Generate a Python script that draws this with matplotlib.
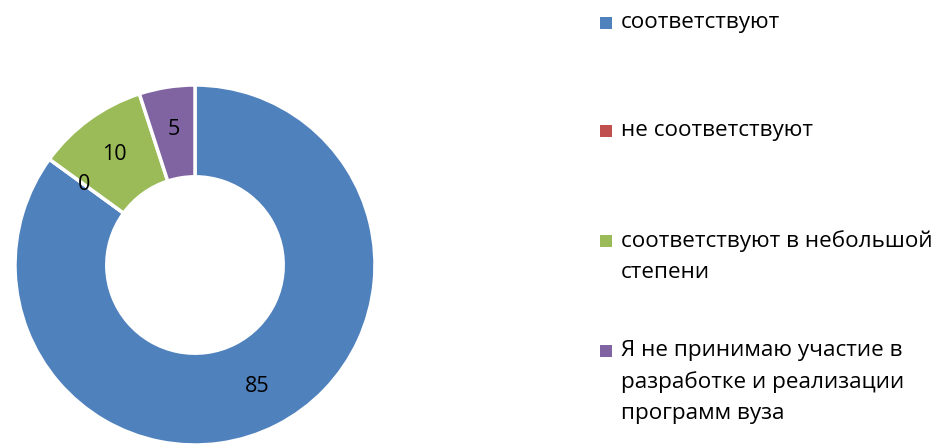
import matplotlib
matplotlib.use("Agg")
import matplotlib.pyplot as plt
from matplotlib.patches import Rectangle

categories = ["соответствуют", "не соответствуют",
              "соответствуют в небольшой\nстепени",
              "Я не принимаю участие в\nразработке и реализации\nпрограмм вуза"]
values = [85, 0, 10, 5]
colors = ["#4F81BD", "#C0504D", "#9BBB59", "#8064A2"]

plt.rcParams['font.family'] = ['Open Sans', 'DejaVu Sans']

W, H = 937, 448
fig = plt.figure(figsize=(W / 100, H / 100), dpi=100)

# pie axes: center (195,265), outer radius 180 px
cx, cy, R = 195, 265, 180
ax = fig.add_axes([(cx - R) / W, (H - cy - R) / H, 2 * R / W, 2 * R / H])
wedges, texts = ax.pie(values, colors=colors, startangle=90, counterclock=False,
                       radius=1.0, labels=[str(v) for v in values], labeldistance=0.76,
                       wedgeprops=dict(width=0.51, edgecolor="white", linewidth=2.5),
                       textprops=dict(fontsize=15.5, color="black"))
for t in texts:
    t.set_ha("center")
    t.set_va("center")
ax.set_xlim(-1.0, 1.0)
ax.set_ylim(-1.0, 1.0)
ax.set_aspect("equal")

# legend
leg_y = [22, 130, 240, 350]
for lab, col, y in zip(categories, colors, leg_y):
    fig.patches.append(Rectangle((600 / W, 1 - (y + 7) / H), 12 / W, 12 / H,
                                 transform=fig.transFigure, facecolor=col, edgecolor="none"))
    fig.text(621 / W, 1 - (y - 10) / H, lab, fontsize=16.2, va="top", ha="left",
             linespacing=1.62, color="black")

fig.savefig("out.png", dpi=100)
